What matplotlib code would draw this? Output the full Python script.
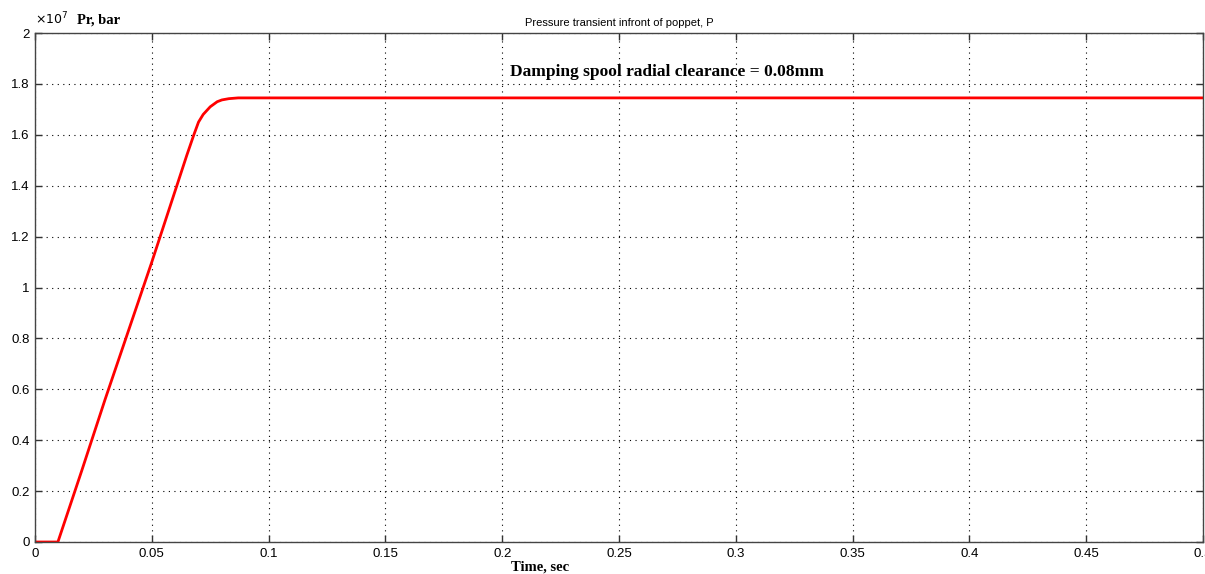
import matplotlib.pyplot as plt
import numpy as np

# time (s) and pressure (Pa)
t = [0, 0.0098, 0.02, 0.03, 0.04, 0.05, 0.06, 0.065, 0.068, 0.070,
     0.072, 0.075, 0.078, 0.080, 0.083, 0.087, 0.09, 0.5]
p = [0, 0, 0.28e7, 0.56e7, 0.83e7, 1.10e7, 1.38e7, 1.52e7, 1.60e7, 1.65e7,
     1.68e7, 1.71e7, 1.73e7, 1.737e7, 1.742e7, 1.745e7, 1.745e7, 1.745e7]

xticks = [0, 0.05, 0.1, 0.15, 0.2, 0.25, 0.3, 0.35, 0.4, 0.45, 0.5]
xticklabels = ["0", "0.05", "0.1", "0.15", "0.2", "0.25", "0.3", "0.35", "0.4", "0.45", "0.5"]
yticks = np.arange(0, 2.01e7, 0.2e7)
yticklabels = ["0", "0.2", "0.4", "0.6", "0.8", "1", "1.2", "1.4", "1.6", "1.8", "2"]

plt.rcParams["font.family"] = ["Liberation Sans", "DejaVu Sans"]

fig = plt.figure(figsize=(12.05, 5.74), dpi=100)
ax = fig.add_axes([35 / 1205, 32 / 574, 1168 / 1205, 509 / 574])

ax.plot(t, p, color="red", lw=2)

ax.set_xlim(0, 0.5)
ax.set_ylim(0, 2e7)
ax.set_xticks(xticks)
ax.set_xticklabels(xticklabels)
ax.set_yticks(yticks)
ax.set_yticklabels(yticklabels)

ax.grid(True, color="black", linestyle=(0, (1, 4)), lw=0.8)
ax.tick_params(direction="in", length=5, labelsize=9.5, color="#333333", width=1,
               top=True, right=True, pad=4)
for s in ax.spines.values():
    s.set_color("#444444")
    s.set_linewidth(1)

ax.set_title("Pressure transient infront of poppet, P", fontsize=8, pad=5)

ax.text(0.0, 1.012, r"$\times10^{7}$", transform=ax.transAxes, fontsize=9,
        va="bottom", family="DejaVu Sans")
ax.text(0.036, 1.013, "Pr, bar", transform=ax.transAxes, fontsize=10.5,
        family="Liberation Serif", weight="bold", va="bottom")

ax.text(0.2034, 1.847e7, "Damping spool radial clearance = 0.08mm",
        fontsize=12.5, family="Liberation Serif", weight="bold", va="center")

fig.text(540 / 1205, 1 - 567 / 574, "Time, sec", fontsize=10.5,
         family="Liberation Serif", weight="bold", ha="center", va="center")

fig.savefig("out.png", dpi=100)
